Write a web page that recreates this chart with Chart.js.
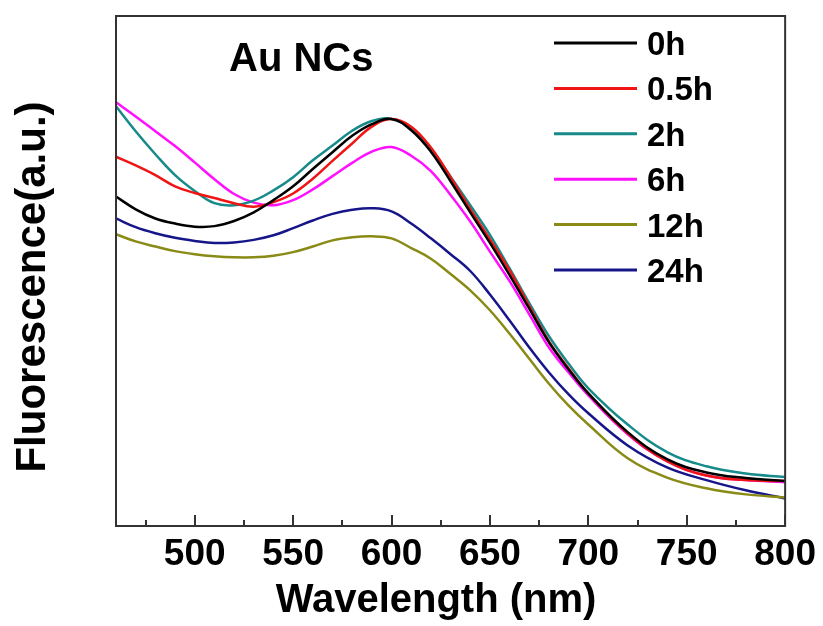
<!DOCTYPE html>
<html>
<head>
<meta charset="utf-8">
<script src="https://cdn.jsdelivr.net/npm/chart.js@4/dist/chart.umd.min.js"></script>
<style>
  html, body { margin: 0; padding: 0; background: #ffffff; }
  #wrap { width: 823px; height: 626px; }
</style>
</head>
<body>
<div id="wrap"><canvas id="c" width="823" height="626"></canvas></div>
<script>
// Emission wavelength grid (nm)
const wavelengths = [460, 470, 480, 490, 500, 510, 520, 530, 540, 550,
                     560, 570, 580, 590, 600, 610, 620, 630, 640, 650,
                     660, 670, 680, 690, 700, 720, 740, 760, 780, 800];

// Fluorescence intensity (a.u.) after each incubation time
const seriesLabels = ['0h', '0.5h', '2h', '6h', '12h', '24h'];
const h0   = [64.6, 62.1, 60.3, 59.3, 58.7, 58.8, 59.8, 61.5, 63.9, 66.6,
              70.0, 73.3, 76.5, 78.8, 79.8, 77.6, 73.4, 67.6, 61.5, 55.5,
              49.2, 42.6, 36.0, 30.7, 26.0, 18.4, 13.1, 10.5, 9.4, 8.8];
const h05  = [72.4, 70.7, 68.8, 66.6, 65.3, 64.3, 63.3, 62.6, 63.5, 65.2,
              68.1, 71.6, 75.0, 78.3, 79.8, 78.3, 74.2, 68.4, 62.1, 56.2,
              50.1, 43.1, 36.2, 30.9, 26.0, 18.2, 12.7, 9.9, 9.0, 8.8];
const h2   = [82.3, 77.4, 72.9, 68.8, 65.7, 63.3, 62.9, 63.8, 65.8, 68.4,
              71.7, 74.6, 77.5, 79.4, 79.8, 77.8, 73.9, 68.5, 62.9, 57.1,
              50.5, 43.7, 37.2, 31.8, 27.0, 19.9, 14.5, 11.7, 10.3, 9.6];
const h6   = [83.1, 80.3, 77.4, 74.5, 71.3, 68.0, 65.1, 63.4, 62.9, 63.9,
              66.0, 68.6, 71.2, 73.4, 74.3, 72.6, 69.6, 64.9, 59.7, 53.8,
              48.0, 41.5, 35.0, 30.1, 25.6, 18.0, 12.7, 9.9, 9.0, 8.6];
const h12  = [57.2, 55.8, 54.8, 53.9, 53.3, 52.9, 52.7, 52.7, 53.0, 53.7,
              54.8, 56.0, 56.6, 56.8, 56.4, 54.5, 52.4, 49.4, 46.2, 42.3,
              37.7, 32.8, 27.9, 23.6, 19.9, 13.3, 9.5, 7.4, 6.2, 5.6];
const h24  = [60.3, 58.6, 57.4, 56.5, 55.9, 55.5, 55.6, 56.1, 57.0, 58.4,
              59.9, 61.2, 62.0, 62.3, 61.7, 59.3, 56.4, 53.3, 50.0, 45.4,
              40.3, 35.0, 30.1, 25.8, 22.1, 15.8, 11.5, 9.0, 7.0, 5.4];

// Axis ticks (nm)
const majorTicks = [500, 550, 600, 650, 700, 750, 800];
const minorTicks = [475, 525, 575, 625, 675, 725, 775];

const seriesValues = [h0, h05, h2, h6, h12, h24];
const seriesColors = ['#000000', '#f01414', '#178a8a', '#ff10ff', '#8a8a16', '#16168a'];

const FONT = '"Liberation Sans", Arial, Helvetica, sans-serif';

const datasets = seriesValues.map((vals, i) => ({
  label: seriesLabels[i],
  data: vals.map((v, k) => ({ x: wavelengths[k], y: v })),
  borderColor: seriesColors[i],
  backgroundColor: seriesColors[i],
  borderWidth: 2.5,
  pointRadius: 0,
  fill: false,
  tension: 0.4
}));

// Frame, inward tick marks, legend and text labels
const decorations = {
  id: 'decorations',
  afterDatasetsDraw(chart) {
    const { ctx, chartArea: a, scales: { x } } = chart;
    ctx.save();

    // plot frame
    ctx.strokeStyle = '#333333';
    ctx.lineWidth = 2;
    ctx.strokeRect(a.left, a.top, a.right - a.left, a.bottom - a.top);

    // inward ticks on the bottom axis
    ctx.beginPath();
    majorTicks.forEach(v => {
      const px = Math.round(x.getPixelForValue(v));
      ctx.moveTo(px, a.bottom);
      ctx.lineTo(px, a.bottom - 11);
    });
    minorTicks.forEach(v => {
      const px = Math.round(x.getPixelForValue(v));
      ctx.moveTo(px, a.bottom);
      ctx.lineTo(px, a.bottom - 6);
    });
    ctx.stroke();

    // legend
    ctx.font = 'bold 33px ' + FONT;
    ctx.textAlign = 'left';
    ctx.textBaseline = 'alphabetic';
    chart.data.datasets.forEach((ds, i) => {
      const ly = 43 + i * 45.4;
      ctx.strokeStyle = ds.borderColor;
      ctx.lineWidth = 3;
      ctx.beginPath();
      ctx.moveTo(554, ly);
      ctx.lineTo(637, ly);
      ctx.stroke();
      ctx.fillStyle = '#000000';
      ctx.fillText(ds.label, 647, ly + 12);
    });

    // sample name
    ctx.font = 'bold 40px ' + FONT;
    ctx.fillStyle = '#000000';
    ctx.fillText('Au NCs', 229, 71);

    // axis titles
    ctx.font = 'bold 40px ' + FONT;
    ctx.textAlign = 'center';
    ctx.fillText('Wavelength (nm)', 436, 612);

    ctx.translate(45, 287);
    ctx.rotate(-Math.PI / 2);
    ctx.font = 'bold 42px ' + FONT;
    ctx.fillText('Fluorescence(a.u.)', 0, 0);

    ctx.restore();
  }
};

new Chart(document.getElementById('c'), {
  type: 'line',
  data: { datasets },
  options: {
    responsive: false,
    animation: false,
    devicePixelRatio: 1,
    layout: { padding: { top: 16, right: 37, left: 0, bottom: 0 } },
    plugins: {
      legend: { display: false },
      tooltip: { enabled: false }
    },
    scales: {
      x: {
        type: 'linear',
        min: 460,
        max: 800,
        afterBuildTicks: s => { s.ticks = majorTicks.map(v => ({ value: v })); },
        afterFit: s => { s.height = 100; },
        grid: { display: true, drawOnChartArea: false, drawTicks: false },
        border: { display: false },
        ticks: {
          padding: 7,
          color: '#000000',
          maxRotation: 0,
          autoSkip: false,
          font: { family: FONT, size: 37, weight: 'bold' }
        }
      },
      y: {
        type: 'linear',
        min: 0,
        max: 100,
        afterFit: s => { s.width = 116; },
        grid: { display: false },
        border: { display: false },
        ticks: { display: false }
      }
    }
  },
  plugins: [decorations]
});
</script>
</body>
</html>
